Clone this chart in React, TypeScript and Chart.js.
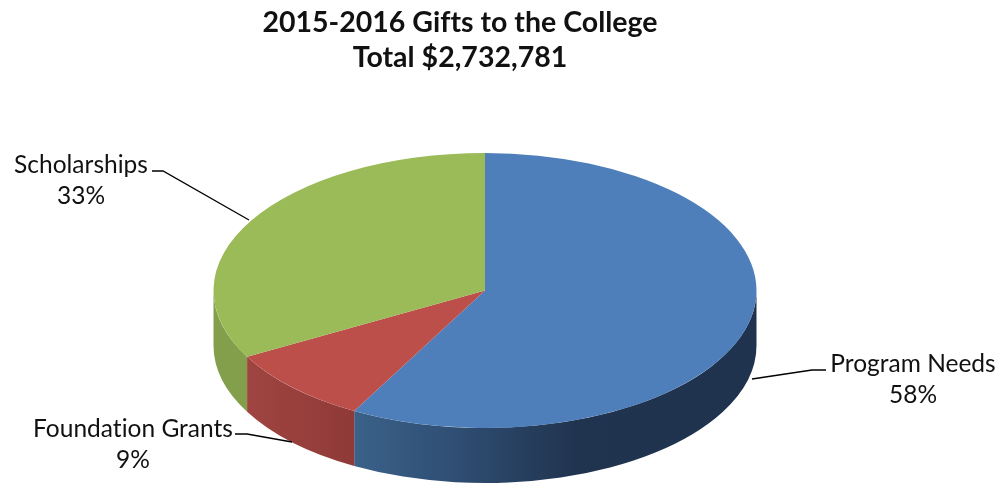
import React, { useEffect, useRef } from "react";
import { Chart, registerables } from "chart.js";

Chart.register(...registerables);

const titleLines = ["2015-2016 Gifts to the College", "Total $2,732,781"];
const categories = ["Program Needs", "Foundation Grants", "Scholarships"];
const shares = [58, 9, 33];
const topColors = ["#4f7fba", "#bd4f4b", "#9bbb59"];

const FONT = "Lato, 'Open Sans', sans-serif";
const PIE = { cx: 485, rx: 271.5, depth: 55 };
const LABELS = [
  { x: 913, y: 364, gap: 31 },
  { x: 133, y: 429, gap: 31 },
  { x: 81, y: 165, gap: 31 },
];
const LEADERS = [
  [[752, 379], [812, 370], [826, 370]],
  [[292, 442], [247, 434], [235, 434]],
  [[249, 220], [163, 171], [152, 171]],
];

function wallFill(ctx: CanvasRenderingContext2D, index: number) {
  if (index === 0) {
    const g = ctx.createLinearGradient(355, 0, 756, 0);
    g.addColorStop(0, "#3b6189");
    g.addColorStop(0.25, "#2f4e73");
    g.addColorStop(0.55, "#20344f");
    g.addColorStop(1, "#1f334f");
    return g;
  }
  if (index === 1) {
    const g = ctx.createLinearGradient(246, 0, 355, 0);
    g.addColorStop(0, "#9f4441");
    g.addColorStop(1, "#8f3a37");
    return g;
  }
  return "#839f4b";
}

const pie3d = {
  id: "pie3d",
  beforeDraw(chart: any) {
    chart.ctx.letterSpacing = "0.01px";
  },
  beforeDatasetsDraw(chart: any) {
    const { ctx } = chart;
    const arcs = chart.getDatasetMeta(0).data;
    const first = arcs[0].getProps(["x", "y", "outerRadius"], true);
    const { x, y, outerRadius } = first;
    ctx.save();
    arcs.forEach((arc: any, i: number) => {
      const p = arc.getProps(["startAngle", "endAngle"], true);
      const a = Math.max(p.startAngle, 0);
      const b = Math.min(p.endAngle, Math.PI);
      if (b <= a) return;
      ctx.beginPath();
      ctx.ellipse(PIE.cx, y, PIE.rx, outerRadius, 0, a, b, false);
      ctx.ellipse(PIE.cx, y + PIE.depth, PIE.rx, outerRadius, 0, b, a, true);
      ctx.closePath();
      ctx.fillStyle = wallFill(ctx, i);
      ctx.fill();
    });
    ctx.restore();
    ctx.save();
    ctx.translate(PIE.cx, 0);
    ctx.scale(PIE.rx / outerRadius, 1);
    ctx.translate(-x, 0);
  },
  afterDatasetsDraw(chart: any) {
    chart.ctx.restore();
  },
  afterDraw(chart: any) {
    const { ctx } = chart;
    ctx.save();
    ctx.strokeStyle = "#000";
    ctx.lineWidth = 1.3;
    LEADERS.forEach((pts) => {
      ctx.beginPath();
      pts.forEach(([px, py], i) => (i ? ctx.lineTo(px, py) : ctx.moveTo(px, py)));
      ctx.stroke();
    });
    ctx.fillStyle = "#111";
    ctx.font = `24.5px ${FONT}`;
    ctx.textAlign = "center";
    ctx.textBaseline = "middle";
    categories.forEach((name, i) => {
      const l = LABELS[i];
      ctx.fillText(name, l.x, l.y);
      ctx.fillText(`${shares[i]}%`, l.x, l.y + l.gap);
    });
    ctx.restore();
  },
};

export default function App() {
  const ref = useRef<HTMLCanvasElement>(null);
  useEffect(() => {
    document.body.style.margin = "0";
    document.body.style.background = "#fff";
    const chart = new Chart(ref.current!, {
      type: "pie",
      data: {
        labels: categories,
        datasets: [
          {
            data: shares,
            backgroundColor: topColors,
            borderWidth: 0,
            clip: false as any,
          },
        ],
      },
      options: {
        responsive: false,
        animation: false,
        events: [],
        layout: { padding: { left: 0, right: 80, top: 0, bottom: 56 } },
        plugins: {
          legend: { display: false },
          tooltip: { enabled: false },
          title: {
            display: true,
            text: titleLines,
            color: "#111",
            font: { family: FONT, size: 28.5, weight: "bold", lineHeight: 1.228 },
            padding: { top: 5, bottom: 78 },
          },
        },
      },
      plugins: [pie3d],
    });
    return () => chart.destroy();
  }, []);
  return (
    <canvas
      ref={ref}
      width={1000}
      height={484}
      style={{ display: "block", width: 1000, height: 484 }}
    />
  );
}
